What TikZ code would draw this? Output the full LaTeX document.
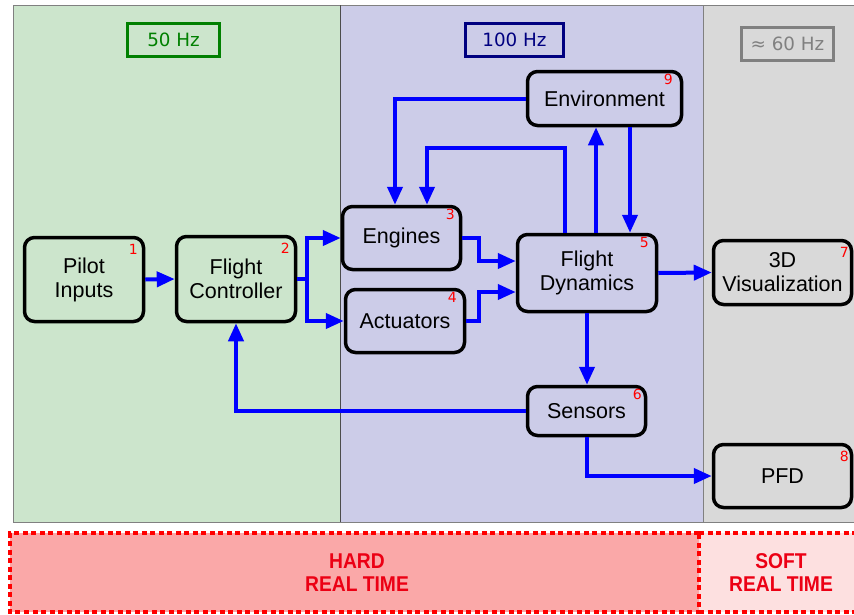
\documentclass[tikz,border=0pt]{standalone}
\usepackage{fontspec}
\setmainfont{Liberation Sans}
\newfontfamily\djv{DejaVu Sans}
\newfontfamily\narrowb[FakeStretch=0.9]{Liberation Sans Bold}
\usetikzlibrary{arrows.meta,calc}
\definecolor{pgreen}{RGB}{204,229,204}
\definecolor{pblue}{RGB}{204,204,232}
\definecolor{pgray}{RGB}{217,217,217}
\definecolor{hardfill}{RGB}{250,168,168}
\definecolor{softfill}{RGB}{253,224,224}
\definecolor{rtred}{RGB}{236,0,20}
\definecolor{hzgreen}{RGB}{0,128,0}
\definecolor{hznavy}{RGB}{0,0,128}
\definecolor{hzgray}{RGB}{128,128,128}
\definecolor{arrblue}{RGB}{0,0,255}
\tikzset{
  blk/.style={draw=black, line width=3.5pt, rounded corners=10pt, align=center,
    font=\fontsize{21.5}{24}\selectfont, inner sep=0pt},
  num/.style={text=red, font=\djv\fontsize{14}{14}\selectfont, inner sep=0pt},
  hz/.style={line width=3pt, font=\djv\fontsize{18.3}{20}\selectfont, inner sep=0pt,
    minimum height=33pt},
  arr/.style={draw=arrblue, line width=4pt, -{Triangle[length=18pt,width=15pt]}},
  rt/.style={draw=red, line width=3.2pt, dash pattern=on 5pt off 3.5pt},
  rttext/.style={text=rtred, align=center, font=\narrowb\fontsize{21.4}{23}\selectfont}
}
\begin{document}
\begin{tikzpicture}[x=1pt,y=-1pt]
\useasboundingbox (0,0) rectangle (854,614);
\clip (0,0) rectangle (854,614);
% panels
\fill[pgreen] (13,5) rectangle (340,522);
\fill[pblue] (340,5) rectangle (703,522);
\fill[pgray] (703,5) rectangle (870,522);
\draw[hzgray, line width=1pt] (870,5) -- (13,5) -- (13,522) -- (870,522);
\draw[black!70, line width=0.8pt] (340,5) -- (340,522);
\draw[hzgray, line width=1pt] (703,5) -- (703,522);
% frequency labels
\node[hz, draw=hzgreen, text=hzgreen, minimum width=92pt] (hz50) at (173.5,40) {50 Hz};
\node[hz, draw=hznavy, text=hznavy, minimum width=98pt] (hz100) at (514.5,40) {100 Hz};
\node[hz, draw=hzgray, text=hzgray, minimum width=92pt] (hz60) at (787.5,43.5) {≈ 60 Hz};
% blocks
\node[blk, minimum width=119pt, minimum height=84pt] (pilot) at (84,279.5) {Pilot\\Inputs};
\node[blk, minimum width=119pt, minimum height=85pt] (fc) at (236,279) {Flight\\Controller};
\node[blk, minimum width=118pt, minimum height=63pt] (eng) at (401.5,238) {Engines};
\node[blk, minimum width=119pt, minimum height=63pt] (act) at (405,321) {Actuators};
\node[blk, minimum width=139pt, minimum height=77pt] (fd) at (587,273) {Flight\\Dynamics};
\node[blk, minimum width=138pt, minimum height=64pt] (vis) at (782.5,272.5) {3D\\Visualization};
\node[blk, minimum width=154pt, minimum height=54pt] (env) at (604.5,98.5) {Environment};
\node[blk, minimum width=118pt, minimum height=49pt] (sens) at (586.5,411) {Sensors};
\node[blk, minimum width=138pt, minimum height=63pt] (pfd) at (782.5,476) {PFD};
% numbers
\node[num] (n1) at ([xshift=-12pt,yshift=-14pt]pilot.north east) {1};
\node[num] (n2) at ([xshift=-12pt,yshift=-14pt]fc.north east) {2};
\node[num] (n3) at ([xshift=-12pt,yshift=-10pt]eng.north east) {3};
\node[num] (n4) at ([xshift=-14pt,yshift=-10pt]act.north east) {4};
\node[num] (n5) at ([xshift=-14pt,yshift=-10pt]fd.north east) {5};
\node[num] (n6) at ([xshift=-10pt,yshift=-10pt]sens.north east) {6};
\node[num] (n7) at ([xshift=-9pt,yshift=-14pt]vis.north east) {7};
\node[num] (n8) at ([xshift=-9pt,yshift=-14pt]pfd.north east) {8};
\node[num] (n9) at ([xshift=-15pt,yshift=-10pt]env.north east) {9};
% connectors
\coordinate (jx) at (479,0);
\coordinate (loop) at (0,148);
\draw[arr] (pilot.east) -- (fc.west);
\draw[arr] (fc.east) -- ++(10,0) |- (eng.west);
\draw[arr] (fc.east) -- ++(10,0) |- (act.west);
\coordinate (fdin1) at ([yshift=12pt]fd.west);
\coordinate (fdin2) at ([yshift=-19pt]fd.west);
\draw[arr] (eng.east) -- (eng.east -| jx) |- (fdin1);
\draw[arr] (act.east) -- (act.east -| jx) |- (fdin2);
\draw[arr] (fd.east) -- (vis.west);
\draw[arr] ([xshift=9pt]fd.north) -- ([xshift=9pt]fd.north |- env.south);
\draw[arr] ([xshift=43pt]fd.north |- env.south) -- ([xshift=43pt]fd.north);
\draw[arr] ([xshift=-22pt]fd.north) -- ([xshift=-22pt]fd.north |- loop) -| ([xshift=25.5pt]eng.north);
\draw[arr] (env.west) -| ([xshift=-6.5pt]eng.north);
\draw[arr] (fd.south) -- (fd.south |- sens.north);
\draw[arr] (sens.west) -| (fc.south);
\draw[arr] (sens.south) |- (pfd.west);
% real time bands
\fill[hardfill] (10,533) rectangle (699,612);
\fill[softfill] (699,533) rectangle (870,612);
\draw[rt] (699,533) -- (10,533) -- (10,612) -- (699,612) -- cycle;
\draw[rt] (699,533) -- (870,533);
\draw[rt] (699,612) -- (870,612);
\node[rttext] (hard) at (357,573) {HARD\\REAL TIME};
\node[rttext] (soft) at (781,573) {SOFT\\REAL TIME};
\end{tikzpicture}
\end{document}
